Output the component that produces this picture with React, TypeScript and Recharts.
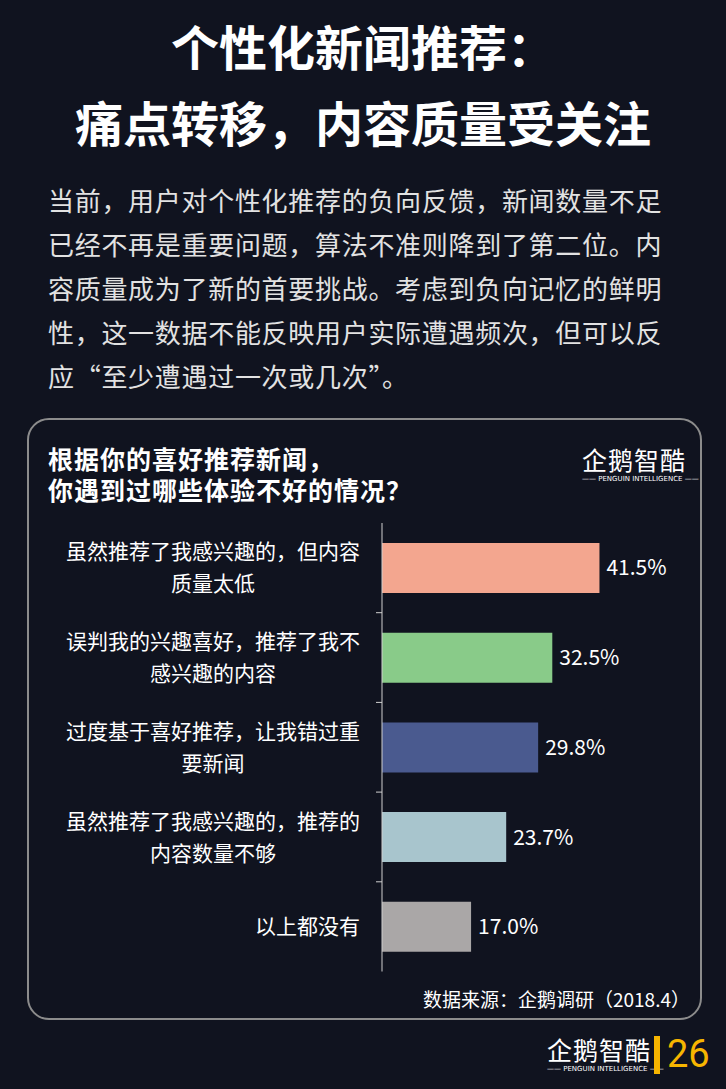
import React from "react"
import { Bar, BarChart, Cell, LabelList, XAxis, YAxis } from "recharts"

const categories = [
  "虽然推荐了我感兴趣的，但内容\n质量太低",
  "误判我的兴趣喜好，推荐了我不\n感兴趣的内容",
  "过度基于喜好推荐，让我错过重\n要新闻",
  "虽然推荐了我感兴趣的，推荐的\n内容数量不够",
  "以上都没有",
]
const values = [41.5, 32.5, 29.8, 23.7, 17.0]
const colors = ["#f3a68f", "#89cb89", "#4a5a8f", "#a8c5cd", "#aaa7a7"]

const bodyLines = [
  "当前，用户对个性化推荐的负向反馈，新闻数量不足",
  "已经不再是重要问题，算法不准则降到了第二位。内",
  "容质量成为了新的首要挑战。考虑到负向记忆的鲜明",
  "性，这一数据不能反映用户实际遭遇频次，但可以反",
  "应“至少遭遇过一次或几次”。",
]

const data = categories.map((name, i) => ({ name, value: values[i] }))

const FONT = '"Noto Sans CJK SC", "Noto Sans", sans-serif'
const BG = "#10131f"

const CHART_TOP = 500
const PLOT_TOP = 23
const PLOT_H = 448.5
const CHART_H = 500
const BAND = PLOT_H / categories.length
const LABEL_FS = 21

function CategoryTick(props: any) {
  const { x, y, payload, index } = props
  const lines: string[] = String(payload.value).split("\n")
  const maxLen = Math.max(...lines.map((l) => l.length))
  const blockW = maxLen * LABEL_FS
  const cx = x - blockW / 2
  const lh = 32
  const start = y - ((lines.length - 1) * lh) / 2
  return (
    <g>
      {index > 0 && (
        <line
          x1={x + 16}
          x2={x + 22}
          y1={y - BAND / 2}
          y2={y - BAND / 2}
          stroke="#d0d0d0"
          strokeWidth={1}
        />
      )}
      {lines.map((l, i) => (
        <text
          key={i}
          x={lines.length > 1 ? cx : x}
          y={start + i * lh}
          dy="0.36em"
          textAnchor={lines.length > 1 ? "middle" : "end"}
          fill="#ffffff"
          fontSize={LABEL_FS}
          fontFamily={FONT}
        >
          {l}
        </text>
      ))}
    </g>
  )
}

function Logo({ left, top }: { left: number; top: number }) {
  return (
    <div style={{ position: "absolute", left, top, width: 104, color: "#ffffff", textAlign: "center" }}>
      <div style={{ fontSize: 25, lineHeight: "30px", fontFamily: FONT, letterSpacing: 1 }}>企鹅智酷</div>
      <div style={{ fontSize: 7, lineHeight: "10px", fontFamily: "DejaVu Sans, sans-serif", whiteSpace: "nowrap" }}>
        —— PENGUIN INTELLIGENCE ——
      </div>
    </div>
  )
}

export default function App() {
  return (
    <div
      style={{
        position: "absolute",
        left: 0,
        top: 0,
        width: 726,
        height: 1089,
        background: BG,
        fontFamily: FONT,
        overflow: "hidden",
      }}
    >
      <div
        style={{
          position: "absolute",
          top: 7,
          left: 0,
          width: 726,
          textAlign: "center",
          color: "#ffffff",
          fontSize: 48,
          fontWeight: 700,
          lineHeight: "76px",
        }}
      >
        <div>个性化新闻推荐：</div>
        <div>痛点转移，内容质量受关注</div>
      </div>

      <div
        style={{
          position: "absolute",
          top: 178,
          left: 48,
          color: "#e2e2e2",
          fontSize: 26,
          lineHeight: "44px",
          letterSpacing: 0.7,
          whiteSpace: "nowrap",
        }}
      >
        {bodyLines.map((l, i) => (
          <div key={i}>{l}</div>
        ))}
      </div>

      <div
        style={{
          position: "absolute",
          left: 27,
          top: 418,
          width: 671,
          height: 598,
          border: "2px solid #8c8c8c",
          borderRadius: 22,
        }}
      />

      <div
        style={{
          position: "absolute",
          left: 48,
          top: 443,
          color: "#ffffff",
          fontSize: 25,
          fontWeight: 700,
          lineHeight: "31px",
          letterSpacing: 1,
        }}
      >
        <div>根据你的喜好推荐新闻，</div>
        <div>你遇到过哪些体验不好的情况？</div>
      </div>

      <Logo left={582} top={444} />

      <div style={{ position: "absolute", left: 0, top: CHART_TOP }}>
        <BarChart
          width={726}
          height={CHART_H}
          data={data}
          layout="vertical"
          margin={{ top: PLOT_TOP, right: 82, bottom: CHART_H - PLOT_TOP - PLOT_H, left: 0 }}
          barCategoryGap={20}
        >
          <XAxis type="number" domain={[0, 50]} hide />
          <YAxis
            type="category"
            dataKey="name"
            width={382}
            axisLine={{ stroke: "#d0d0d0", strokeWidth: 1 }}
            tickLine={false}
            tickSize={6}
            tickMargin={16}
            tick={<CategoryTick />}
            interval={0}
          />
          <Bar dataKey="value" isAnimationActive={false}>
            {data.map((d, i) => (
              <Cell key={d.name} fill={colors[i]} />
            ))}
            <LabelList
              dataKey="value"
              position="right"
              offset={7}
              fill="#ffffff"
              fontSize={21}
              fontFamily={FONT}
              formatter={(v: any) => `${Number(v).toFixed(1)}%`}
            />
          </Bar>
        </BarChart>
      </div>

      <div
        style={{
          position: "absolute",
          right: 36,
          top: 985,
          color: "#ffffff",
          fontSize: 19,
          lineHeight: "28px",
        }}
      >
        数据来源：企鹅调研（2018.4）
      </div>

      <Logo left={547} top={1034} />
      <div style={{ position: "absolute", left: 654, top: 1036, width: 6, height: 38, background: "#f7b500" }} />
      <div
        style={{
          position: "absolute",
          left: 667,
          top: 1030,
          color: "#f7b500",
          fontSize: 38,
          lineHeight: "48px",
          fontFamily: "Roboto, sans-serif",
        }}
      >
        26
      </div>
    </div>
  )
}
